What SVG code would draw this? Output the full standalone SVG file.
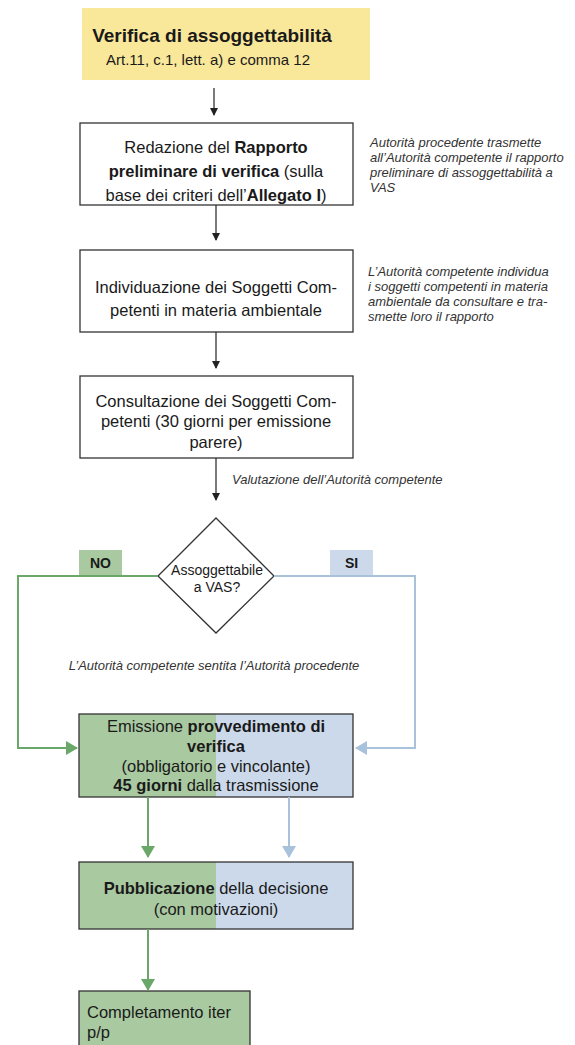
<svg xmlns="http://www.w3.org/2000/svg" width="575" height="1045" viewBox="0 0 575 1045">
<style>
.t{font-family:"Liberation Sans",Arial,sans-serif;fill:#1a1a1a}
.box{font-size:16.5px}
.b{font-weight:bold}
.note{font-size:13px;font-style:italic;fill:#333}
.node{fill:#fff;stroke:#333;stroke-width:1.3}
.blk{stroke:#222;stroke-width:1.2;fill:none}
.grn{stroke:#6aa86a;stroke-width:2;fill:none}
.blu{stroke:#a9c2dc;stroke-width:2;fill:none}
</style>
<defs>
<marker id="ak" markerWidth="8" markerHeight="8" refX="7" refY="4" orient="auto" markerUnits="userSpaceOnUse"><path d="M0,0 L8,4 L0,8 Z" fill="#222"/></marker>
<marker id="ag" markerWidth="12" markerHeight="14" refX="11" refY="7" orient="auto" markerUnits="userSpaceOnUse"><path d="M0,0 L12,7 L0,14 Z" fill="#6aa86a"/></marker>
<marker id="ab" markerWidth="12" markerHeight="14" refX="11" refY="7" orient="auto" markerUnits="userSpaceOnUse"><path d="M0,0 L12,7 L0,14 Z" fill="#a9c2dc"/></marker>
</defs>

<g id="title">
<rect x="82" y="8" width="288" height="72" fill="#fae89a"/>
<text class="t b" x="212" y="42" font-size="19" text-anchor="middle">Verifica di assoggettabilità</text>
<text class="t" x="208" y="65" font-size="15" text-anchor="middle">Art.11, c.1, lett. a) e comma 12</text>
</g>

<g id="redazione">
<rect class="node" x="80" y="123" width="273" height="82"/>
<text class="t box" text-anchor="middle"><tspan x="216" y="153">Redazione del <tspan class="b">Rapporto</tspan></tspan><tspan x="216" y="177"><tspan class="b">preliminare di verifica</tspan> (sulla</tspan><tspan x="216" y="201">base dei criteri dell’<tspan class="b">Allegato I</tspan>)</tspan></text>
</g>
<g id="note1">
<text class="t note"><tspan x="370" y="147">Autorità procedente trasmette</tspan><tspan x="370" y="162">all’Autorità competente il rapporto</tspan><tspan x="370" y="177">preliminare di assoggettabilità a</tspan><tspan x="370" y="192">VAS</tspan></text>
</g>

<g id="individuazione">
<rect class="node" x="80" y="250" width="273" height="82"/>
<text class="t box" text-anchor="middle"><tspan x="216" y="293">Individuazione dei Soggetti Com-</tspan><tspan x="216" y="316">petenti in materia ambientale</tspan></text>
</g>
<g id="note2">
<text class="t note"><tspan x="368" y="276">L’Autorità competente individua</tspan><tspan x="368" y="291">i soggetti competenti in materia</tspan><tspan x="368" y="306">ambientale da consultare e tra-</tspan><tspan x="368" y="321">smette loro il rapporto</tspan></text>
</g>

<g id="consultazione">
<rect class="node" x="80" y="376" width="273" height="82"/>
<text class="t box" text-anchor="middle"><tspan x="216" y="407">Consultazione dei Soggetti Com-</tspan><tspan x="216" y="427">petenti (30 giorni per emissione</tspan><tspan x="216" y="448">parere)</tspan></text>
</g>
<g id="note3">
<text class="t note" x="232" y="484">Valutazione dell’Autorità competente</text>
</g>

<g id="decisione">
<polygon class="node" points="216,518 274,576 216,633 158,576"/>
<text class="t" font-size="14" text-anchor="middle"><tspan x="217" y="575">Assoggettabile</tspan><tspan x="217" y="592">a VAS?</tspan></text>
</g>

<g id="label-no">
<rect x="79" y="550" width="43" height="25" fill="#a9c9a1"/>
<text class="t b" x="100.5" y="568" font-size="14" text-anchor="middle">NO</text>
</g>
<g id="label-si">
<rect x="330" y="550" width="43" height="25" fill="#ccd9ea"/>
<text class="t b" x="351.5" y="568" font-size="14" text-anchor="middle">SI</text>
</g>

<g id="note4">
<text class="t note" x="214" y="670" text-anchor="middle">L’Autorità competente sentita l’Autorità procedente</text>
</g>

<g id="emissione">
<rect x="79" y="714" width="137" height="83" fill="#a9c9a1"/>
<rect x="216" y="714" width="137" height="83" fill="#ccd9ea"/>
<rect x="79" y="714" width="274" height="83" fill="none" stroke="#333" stroke-width="1.3"/>
<text class="t box" text-anchor="middle"><tspan x="216" y="732">Emissione <tspan class="b">provvedimento di</tspan></tspan><tspan class="b" x="216" y="752">verifica</tspan><tspan x="216" y="772">(obbligatorio e vincolante)</tspan><tspan x="216" y="791"><tspan class="b">45 giorni</tspan> dalla trasmissione</tspan></text>
</g>

<g id="pubblicazione">
<rect x="79" y="862" width="137" height="67" fill="#a9c9a1"/>
<rect x="216" y="862" width="137" height="67" fill="#ccd9ea"/>
<rect x="79" y="862" width="274" height="67" fill="none" stroke="#333" stroke-width="1.3"/>
<text class="t box" text-anchor="middle"><tspan x="216" y="894"><tspan class="b">Pubblicazione</tspan> della decisione</tspan><tspan x="216" y="915">(con motivazioni)</tspan></text>
</g>

<g id="completamento">
<rect x="79" y="991" width="171" height="60" fill="#a9c9a1" stroke="#333" stroke-width="1.3"/>
<text class="t box"><tspan x="87" y="1018">Completamento iter</tspan><tspan x="87" y="1038">p/p</tspan></text>
</g>

<g id="connectors">
<line class="blk" x1="214" y1="88" x2="214" y2="115" marker-end="url(#ak)"/>
<line class="blk" x1="216" y1="205" x2="216" y2="240" marker-end="url(#ak)"/>
<line class="blk" x1="216" y1="332" x2="216" y2="368" marker-end="url(#ak)"/>
<line class="blk" x1="216" y1="458" x2="216" y2="500" marker-end="url(#ak)"/>
<polyline class="grn" points="158,576 18,576 18,748 77,748" marker-end="url(#ag)"/>
<polyline class="blu" points="274,576 415,576 415,748 356,748" marker-end="url(#ab)"/>
<line class="grn" x1="148" y1="797" x2="148" y2="857" marker-end="url(#ag)"/>
<line class="blu" x1="289" y1="797" x2="289" y2="857" marker-end="url(#ab)"/>
<line class="grn" x1="148" y1="929" x2="148" y2="990" marker-end="url(#ag)"/>
</g>
</svg>
